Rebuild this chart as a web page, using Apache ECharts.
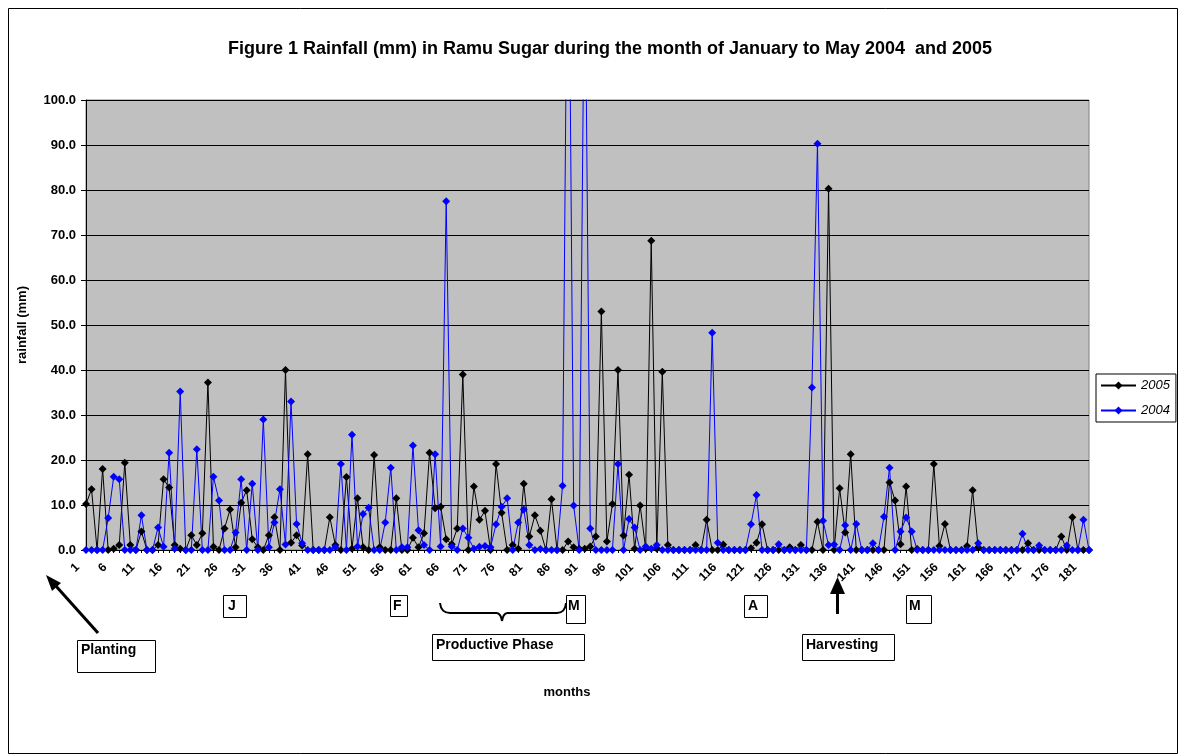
<!DOCTYPE html>
<html>
<head>
<meta charset="utf-8">
<script src="https://cdn.jsdelivr.net/npm/echarts@6/dist/echarts.min.js"></script>
<style>
html,body{margin:0;padding:0;background:#fff;}
#chart{width:1185px;height:755px;}
</style>
</head>
<body>
<div id="chart"></div>
<script>
// ---- data ----
var days = [];
for (var i = 1; i <= 182; i++) days.push(String(i));

var yTicks = [0, 10, 20, 30, 40, 50, 60, 70, 80, 90, 100];

// rainfall (mm) 2005, days 1..182
var rain2005 = [
  10.2, 13.5, 0, 18, 0, 0.3, 1.1, 19.4, 1.1, 0,
  4.1, 0, 0, 1.1, 15.7, 13.9, 1.1, 0.3, 0, 3.3,
  1.1, 3.7, 37.2, 0.7, 0, 4.8, 9.0, 0.6, 10.5, 13.3,
  2.4, 0.6, 0, 3.3, 7.3, 0, 40, 1.6, 3.3, 1,
  21.3, 0, 0, 0, 7.3, 1.1, 0, 16.2, 0.3, 11.5,
  0.6, 0, 21.1, 0.6, 0, 0, 11.5, 0, 0, 2.7,
  0.6, 3.7, 21.6, 9.3, 9.6, 2.4, 1.3, 4.8, 39, 0,
  14.1, 6.7, 8.7, 0, 19.1, 8.3, 0, 1.1, 0.3, 14.7,
  3.0, 7.7, 4.3, 0, 11.3, 0, 0, 1.9, 0.6, 0.3,
  0.3, 0.8, 3.0, 53, 1.9, 10.2, 40, 3.2, 16.7, 0.3,
  9.9, 0.3, 68.7, 0.3, 39.6, 1.1, 0, 0, 0, 0,
  1.1, 0, 6.7, 0, 0, 1.2, 0, 0, 0, 0,
  0.4, 1.6, 5.7, 0, 0, 0, 0, 0.6, 0, 1.1,
  0, 0, 6.3, 0, 80.3, 0, 13.7, 3.9, 21.3, 0,
  0, 0, 0, 0, 0, 15, 11, 1.3, 14.1, 0,
  0.2, 0, 0, 19.1, 0.9, 5.8, 0, 0, 0, 0.9,
  13.3, 0.5, 0, 0, 0, 0, 0, 0, 0, 0,
  1.5, 0, 0, 0, 0, 0, 3.0, 0, 7.3, 0,
  0, 0
];

// rainfall (mm) 2004, days 1..182 (two values exceed the 100 mm axis top and are clipped)
var rain2004 = [
  0, 0, 0, 0, 7.1, 16.3, 15.7, 0, 0, 0,
  7.7, 0, 0, 5.0, 0.7, 21.6, 0.3, 35.2, 0, 0,
  22.4, 0, 0, 16.3, 11, 0, 0, 3.9, 15.7, 0,
  14.7, 0, 29, 0.6, 6.1, 13.5, 1.2, 33, 5.8, 1.5,
  0, 0, 0, 0, 0, 0.6, 19.1, 0, 25.6, 0.8,
  8, 9.4, 0, 0, 6.1, 18.3, 0, 0.6, 0.6, 23.2,
  4.4, 1.1, 0, 21.3, 0.8, 77.5, 0.8, 0, 4.8, 2.7,
  0.3, 0.7, 0.9, 0.6, 5.7, 9.6, 11.5, 0, 6.1, 9.0,
  1.1, 0, 0.2, 0, 0, 0, 14.3, 160, 9.9, 0,
  140, 4.8, 0, 0, 0, 0, 19.1, 0, 6.9, 5.0,
  0, 0.8, 0.3, 1.1, 0, 0, 0, 0, 0, 0,
  0, 0, 0, 48.3, 1.6, 0, 0, 0, 0, 0,
  5.7, 12.2, 0, 0, 0, 1.3, 0, 0, 0, 0,
  0, 36.1, 90.3, 6.5, 1.1, 1.2, 0, 5.5, 0, 5.8,
  0, 0, 1.5, 0, 7.4, 18.3, 0, 4.1, 7.2, 4.1,
  0, 0, 0, 0, 0, 0, 0, 0, 0, 0,
  0, 1.5, 0, 0, 0, 0, 0, 0, 0, 3.6,
  0, 0, 1.0, 0, 0, 0, 0, 1.0, 0, 0,
  6.7, 0
];

var titleText = 'Figure 1 Rainfall (mm) in Ramu Sugar during the month of January to May 2004  and 2005';
var yName = 'rainfall (mm)';
var xName = 'months';
var monthMarks = ['J', 'F', 'M', 'A', 'M'];

// ---- chart ----
var FONT = 'Arial, "Liberation Sans", sans-serif';
var chart = echarts.init(document.getElementById('chart'), null, {renderer: 'canvas'});

function box(x, y, w, h, label, tx, ty) {
  return [
    {type: 'rect', shape: {x: x, y: y, width: w, height: h},
     style: {fill: '#fff', stroke: '#000', lineWidth: 1}},
    {type: 'text', x: tx, y: ty,
     style: {text: label, font: 'bold 14px ' + FONT, fill: '#000', textVerticalAlign: 'top'}}
  ];
}
function seg(x1, y1, x2, y2, w) {
  return {type: 'line', shape: {x1: x1, y1: y1, x2: x2, y2: y2}, style: {stroke: '#000', lineWidth: w}};
}
function curve(x1, y1, cx, cy, x2, y2) {
  return {type: 'bezierCurve', shape: {x1: x1, y1: y1, cpx1: cx, cpy1: cy, x2: x2, y2: y2},
    style: {stroke: '#000', lineWidth: 2, fill: 'none'}};
}

var graphics = [];
graphics.push({type: 'rect', shape: {x: 8.5, y: 8.5, width: 1169, height: 745},
  style: {fill: 'none', stroke: '#000', lineWidth: 1}, z: -1});
graphics = graphics.concat(box(223.5, 595.5, 23, 22, monthMarks[0], 228, 599));
graphics = graphics.concat(box(390.5, 595.5, 17, 21, monthMarks[1], 393, 599));
graphics = graphics.concat(box(566.5, 595.5, 19, 28, monthMarks[2], 568, 599));
graphics = graphics.concat(box(744.5, 595.5, 23, 22, monthMarks[3], 748, 599));
graphics = graphics.concat(box(906.5, 595.5, 25, 28, monthMarks[4], 909, 599));
graphics = graphics.concat(box(77.5, 640.5, 78, 32, 'Planting', 81, 643));
graphics = graphics.concat(box(432.5, 634.5, 152, 26, 'Productive Phase', 436, 638));
graphics = graphics.concat(box(802.5, 634.5, 92, 26, 'Harvesting', 806, 638));
// diagonal arrow (Planting)
graphics.push(seg(98, 633, 55, 585, 3));
graphics.push({type: 'polygon', shape: {points: [[46, 575], [61, 583], [52, 591]]}, style: {fill: '#000'}});
// vertical arrow (Harvesting)
graphics.push(seg(837.5, 614, 837.5, 590, 3));
graphics.push({type: 'polygon', shape: {points: [[837.5, 577], [830, 594], [845, 594]]}, style: {fill: '#000'}});
// brace
graphics.push(curve(440, 603, 441, 613, 450, 613));
graphics.push(seg(450, 613, 497, 613, 2));
graphics.push(curve(497, 613, 501, 614, 502, 621));
graphics.push(curve(502, 621, 503, 614, 507, 613));
graphics.push(seg(507, 613, 557, 613, 2));
graphics.push(curve(557, 613, 565, 613, 566, 603));
// axis names
graphics.push({type: 'text', x: 22, y: 325, rotation: Math.PI / 2,
  style: {text: yName, font: 'bold 13px ' + FONT, fill: '#000', textAlign: 'center', textVerticalAlign: 'middle'}});
graphics.push({type: 'text', x: 567, y: 692,
  style: {text: xName, font: 'bold 13px ' + FONT, fill: '#000', textAlign: 'center', textVerticalAlign: 'middle'}});
// title
graphics.push({type: 'text', x: 610, y: 49,
  style: {text: titleText, font: 'bold 18px ' + FONT, fill: '#000', textAlign: 'center', textVerticalAlign: 'middle'}});

var option = {
  animation: false,
  backgroundColor: '#fff',
  legend: {
    left: 1096, top: 374,
    orient: 'vertical',
    borderColor: '#000', borderWidth: 1,
    backgroundColor: '#fff',
    padding: [5, 6, 5, 4],
    itemWidth: 35, itemHeight: 10, itemGap: 12,
    textStyle: {fontFamily: FONT, fontSize: 13, fontStyle: 'italic', color: '#000'},
    data: ['2005', '2004']
  },
  grid: {
    left: 86, right: 96, top: 100, bottom: 205,
    show: true, backgroundColor: '#C0C0C0', borderColor: '#808080', borderWidth: 1
  },
  xAxis: {
    type: 'category',
    data: days,
    boundaryGap: false,
    axisLine: {lineStyle: {color: '#000', width: 1}},
    axisTick: {show: true, interval: 0, length: 3, lineStyle: {color: '#000'}},
    axisLabel: {
      interval: 4, rotate: 45, margin: 7,
      padding: [0, 12, 0, 0],
      fontFamily: FONT, fontSize: 12, fontWeight: 'bold', color: '#000'
    },
    splitLine: {show: false}
  },
  yAxis: {
    type: 'value',
    min: yTicks[0], max: yTicks[yTicks.length - 1], interval: 10,
    axisLine: {show: true, lineStyle: {color: '#000', width: 1}},
    axisTick: {show: true, length: 5, lineStyle: {color: '#000'}},
    axisLabel: {
      margin: 10,
      formatter: function (v) { return v.toFixed(1); },
      fontFamily: FONT, fontSize: 13, fontWeight: 'bold', color: '#000'
    },
    splitLine: {show: true, lineStyle: {color: '#000', width: 1}}
  },
  series: [
    {
      name: '2005', type: 'line', data: rain2005,
      symbol: 'diamond', symbolSize: 8, showAllSymbol: true,
      clip: true,
      itemStyle: {color: '#000'},
      lineStyle: {color: '#000', width: 1}
    },
    {
      name: '2004', type: 'line', data: rain2004,
      symbol: 'diamond', symbolSize: 8, showAllSymbol: true,
      clip: true,
      itemStyle: {color: '#0000FF'},
      lineStyle: {color: '#0000FF', width: 1}
    }
  ],
  graphic: graphics
};
chart.setOption(option);
</script>
</body>
</html>
